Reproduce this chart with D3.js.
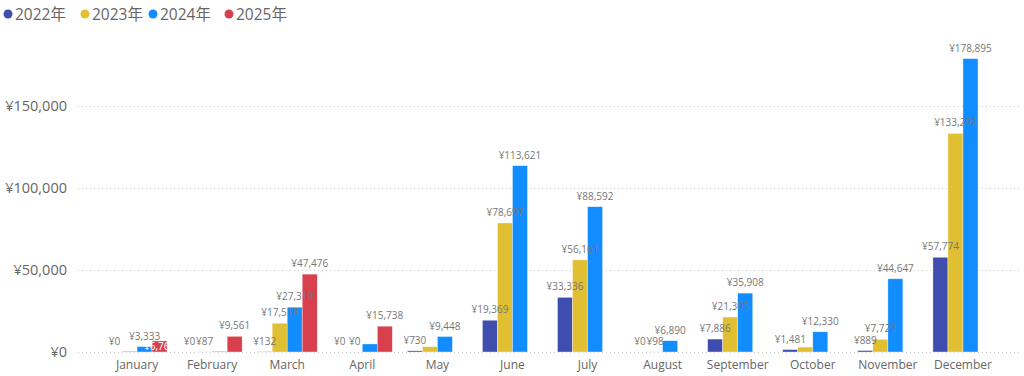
<!DOCTYPE html>
<html>
<head>
<meta charset="utf-8">
<script src="https://cdn.jsdelivr.net/npm/d3@7"></script>
<style>
  body { margin: 0; background: #fff; }
  svg { display: block; font-family: "Open Sans", "Noto Sans CJK JP", sans-serif; }
</style>
</head>
<body>
<div id="chart"></div>
<script>
// chart data
var months = ["January", "February", "March", "April", "May", "June",
  "July", "August", "September", "October", "November", "December"];
var years = ["2022年", "2023年", "2024年", "2025年"];
var sales2022 = [0, 0, 132, 0, 730, 19369, 33336, 0, 7886, 1481, 889, 57774];
var sales2023 = [600, 87, 17518, 0, 3250, 78697, 56161, 98, 21305, 3000, 7722, 133292];
var sales2024 = [3333, 400, 27319, 4900, 9448, 113621, 88592, 6890, 35908, 12330, 44647, 178895];
var sales2025 = [6765, 9561, 47476, 15738, null, null, null, null, null, null, null, null];
var yTicks = [0, 50000, 100000, 150000];
// labels that the report hides (overlap) and one shown inside its bar
var hiddenLabels = ["January|2023年", "February|2024年", "April|2024年", "May|2023年", "October|2023年"];
var insideLabels = ["January|2025年"];

var colors = ["#3F4DAE", "#E0BF32", "#118DFF", "#D8404E"];

var svgWidth = 1024;
var svgHeight = 376;

var svg = d3.select("#chart")
  .append("svg")
  .attr("width", svgWidth)
  .attr("height", svgHeight);

var series = [sales2022, sales2023, sales2024, sales2025];

var data = months.map(function(m, i) {
  return {
    month: m,
    values: years.map(function(y, j) {
      return { month: m, year: y, idx: j, value: series[j][i] };
    })
  };
});

// scales
var x0 = d3.scaleBand()
  .domain(months)
  .range([99.5, 1000.5])
  .paddingInner(0.2)
  .paddingOuter(0.1);

var x1 = d3.scaleBand()
  .domain(years)
  .range([0, x0.bandwidth()]);

var y = d3.scaleLinear()
  .domain([0, 200000])
  .range([352, 24]);

var fmt = function(v) { return "¥" + d3.format(",")(v); };

// gridlines
svg.append("g")
  .selectAll("line")
  .data(yTicks)
  .enter()
  .append("line")
  .attr("x1", 78)
  .attr("x2", 1020)
  .attr("y1", d => Math.round(y(d)) + 0.5)
  .attr("y2", d => Math.round(y(d)) + 0.5)
  .attr("stroke", "#c8c8c8")
  .attr("stroke-width", 1)
  .attr("stroke-dasharray", "1,3");

// y axis labels
var yAxis = d3.axisLeft(y).tickValues(yTicks).tickFormat(fmt).tickSize(0).tickPadding(0);
var yG = svg.append("g")
  .attr("transform", "translate(67,0)")
  .call(yAxis);
yG.select(".domain").remove();
yG.selectAll("text")
  .attr("font-size", "14.5px")
  .attr("fill", "#666")
  .attr("font-family", "Open Sans, sans-serif");

// x axis labels
var xAxis = d3.axisBottom(x0).tickSize(0).tickPadding(0);
var xG = svg.append("g")
  .attr("transform", "translate(0,360)")
  .call(xAxis);
xG.select(".domain").remove();
xG.selectAll("text")
  .attr("font-size", "12px")
  .attr("fill", "#666")
  .attr("font-family", "Open Sans, sans-serif");

// bars
var groups = svg.append("g")
  .selectAll("g")
  .data(data)
  .enter()
  .append("g")
  .attr("transform", d => `translate(${x0(d.month)},0)`);

var barData = d => d.values.filter(v => v.value !== null);

groups.selectAll("rect")
  .data(barData)
  .enter()
  .append("rect")
  .attr("x", d => x1(d.year))
  .attr("width", x1.bandwidth())
  .attr("y", d => y(d.value))
  .attr("height", d => y(0) - y(d.value))
  .attr("fill", d => colors[d.idx])
  .attr("stroke", "rgba(255,255,255,0.6)")
  .attr("stroke-width", 0.6);

// clip for the inside label
var defs = svg.append("defs");

groups.selectAll("text.lbl")
  .data(d => barData(d).filter(v => hiddenLabels.indexOf(v.month + "|" + v.year) < 0))
  .enter()
  .append("text")
  .attr("class", "lbl")
  .each(function(d) {
    var key = d.month + "|" + d.year;
    var t = d3.select(this);
    var cx = x1(d.year) + x1.bandwidth() / 2;
    t.attr("x", cx)
      .attr("text-anchor", "middle")
      .attr("font-size", "10px")
      .text(fmt(d.value));
    if (insideLabels.indexOf(key) >= 0) {
      var id = "clip" + d.idx + d.month;
      defs.append("clipPath").attr("id", id)
        .append("rect")
        .attr("x", x0(d.month) + x1(d.year) - 30)
        .attr("y", 0)
        .attr("width", 30 + x1.bandwidth())
        .attr("height", svgHeight);
      t.attr("y", y(0) - 2)
        .attr("fill", "#fff")
        .attr("clip-path", `url(#${id})`)
        .attr("transform", `translate(${-x0(d.month)},0)`)
        .attr("x", x0(d.month) + cx);
    } else {
      t.attr("y", y(d.value) - 7)
        .attr("fill", "#777");
    }
  });

// legend
var legend = svg.append("g")
  .attr("transform", "translate(8,14)");

var legendX = [0, 77, 145, 221];

var items = legend.selectAll("g")
  .data(years)
  .enter()
  .append("g")
  .attr("transform", (d, i) => `translate(${legendX[i]},0)`);

items.append("circle")
  .attr("r", 4.5)
  .attr("cx", 0)
  .attr("cy", 0)
  .attr("fill", (d, i) => colors[i]);

items.append("text")
  .attr("x", 7)
  .attr("y", 5.5)
  .attr("font-size", "15.5px")
  .attr("fill", "#666")
  .attr("font-family", "Open Sans, Noto Sans CJK JP, sans-serif")
  .text(d => d);
</script>
</body>
</html>
